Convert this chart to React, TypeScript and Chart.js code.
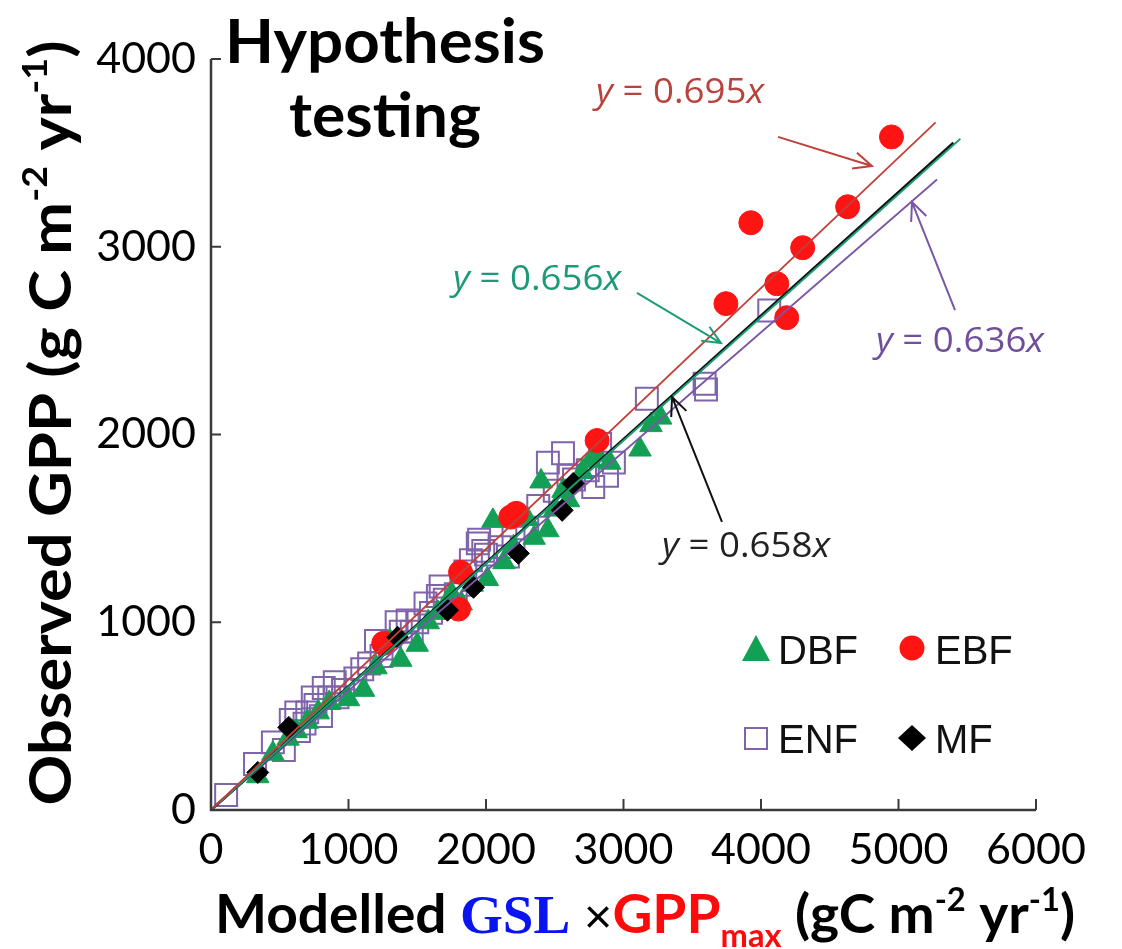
import React, { useEffect, useRef } from "react";
import { Chart, registerables } from "chart.js";

Chart.register(...registerables);

// ---------- data ----------
const xTickValues = [0, 1000, 2000, 3000, 4000, 5000, 6000];
const yTickValues = [0, 1000, 2000, 3000, 4000];

const enfX = [110, 320, 450, 530, 580, 620, 640, 680, 700, 740, 760, 800, 820, 860, 900, 920, 960, 1050, 1100, 1150, 1200, 1240, 1300, 1350, 1380, 1430, 1460, 1500, 1560, 1600, 1650, 1670, 1700, 1780, 1820, 1850, 1890, 1940, 1950, 1980, 2000, 2100, 2160, 2200, 2300, 2380, 2450, 2500, 2560, 2600, 2640, 2740, 2780, 2830, 2880, 2930, 3170, 3590, 3600, 4060];
const enfY = [80, 245, 360, 320, 480, 520, 420, 460, 520, 600, 560, 500, 650, 600, 680, 600, 640, 700, 750, 780, 900, 820, 860, 1000, 950, 1010, 950, 1000, 1100, 1050, 1140, 1190, 1120, 1150, 1200, 1270, 1330, 1420, 1440, 1380, 1360, 1400, 1350, 1450, 1500, 1620, 1850, 1700, 1900, 1780, 1760, 1810, 1720, 1950, 1780, 1850, 2190, 2270, 2240, 2660];

const dbfX = [340, 450, 560, 620, 700, 780, 860, 1000, 1110, 1200, 1300, 1380, 1500, 1580, 1650, 1750, 1820, 1900, 2010, 2050, 2130, 2200, 2300, 2350, 2400, 2450, 2500, 2560, 2600, 2700, 2760, 2800, 2900, 3120, 3200, 3270];
const dbfY = [180, 300, 380, 420, 470, 520, 570, 590, 640, 760, 900, 800, 880, 1000, 1050, 1150, 1100, 1200, 1230, 1540, 1320, 1400, 1550, 1450, 1750, 1490, 1600, 1700, 1650, 1800, 1860, 1900, 1850, 1920, 2050, 2090];

const ebfX = [1256, 1800, 1815, 2180, 2220, 2808, 3745, 3926, 4115, 4187, 4303, 4630, 4949];
const ebfY = [888, 1070, 1266, 1560, 1580, 1968, 2697, 3128, 2803, 2622, 2995, 3213, 3585];

const mfX = [340, 566, 1357, 1720, 1909, 2235, 2554, 2634];
const mfY = [200, 440, 920, 1064, 1186, 1367, 1596, 1739];

const fitNames = ["EBF fit", "DBF fit", "All fit", "ENF fit"];
const fitSlopes = [0.695, 0.656, 0.658, 0.636];
const fitEnds = [5270, 5450, 5400, 5280];
const fitLabels = ["y = 0.695x", "y = 0.656x", "y = 0.658x", "y = 0.636x"];

const legendNames = ["DBF", "EBF", "ENF", "MF"];

// ---------- styles ----------
const C_DBF = "#13a055";
const C_EBF = "#ff1414";
const C_ENF = "#7f63ab";
const C_MF = "#000000";
const fitColors = ["#c0403a", "#1d9d74", "#111111", "#7a56a6"];
const fitWidths = [1.8, 1.8, 2.8, 1.8];
const labelColors = ["#b8433d", "#1c9a78", "#222222", "#6f4f9c"];

// annotation placement in data units: [textX, textY, tailX, tailY, headX, headY]
const annoPlace = [
  [3411, 3830, 4124, 3585, 4807, 3430],
  [2371, 2834, 3098, 2754, 3709, 2487],
  [3891, 1411, 3716, 1534, 3353, 2200],
  [5447, 2503, 5411, 2663, 5098, 3238],
];

const toPts = (xs: number[], ys: number[]) => xs.map((x, i) => ({ x, y: ys[i] }));

type Seg = { t: string; font: string; color: string; dy?: number };

function segWidth(ctx: CanvasRenderingContext2D, segs: Seg[]) {
  return segs.map((s) => {
    ctx.font = s.font;
    return ctx.measureText(s.t).width;
  });
}

function drawSegs(
  ctx: CanvasRenderingContext2D,
  segs: Seg[],
  x: number,
  y: number,
  align: "left" | "center",
  fitWidth?: number,
  rotate?: number
) {
  ctx.save();
  const ws = segWidth(ctx, segs);
  const total = ws.reduce((a, b) => a + b, 0);
  ctx.translate(x, y);
  if (rotate) ctx.rotate(rotate);
  const sx = fitWidth ? fitWidth / total : 1;
  ctx.scale(sx, 1);
  let cx = align === "center" ? -total / 2 : 0;
  ctx.textAlign = "left";
  ctx.textBaseline = "alphabetic";
  segs.forEach((s, i) => {
    ctx.font = s.font;
    ctx.fillStyle = s.color;
    ctx.fillText(s.t, cx, s.dy || 0);
    cx += ws[i];
  });
  ctx.restore();
}

function arrow(ctx: CanvasRenderingContext2D, x1: number, y1: number, x2: number, y2: number, color: string) {
  ctx.save();
  ctx.strokeStyle = color;
  ctx.lineWidth = 2;
  ctx.beginPath();
  ctx.moveTo(x1, y1);
  ctx.lineTo(x2, y2);
  const a = Math.atan2(y2 - y1, x2 - x1);
  const L = 20;
  const sp = 0.42;
  ctx.moveTo(x2 - L * Math.cos(a - sp), y2 - L * Math.sin(a - sp));
  ctx.lineTo(x2, y2);
  ctx.lineTo(x2 - L * Math.cos(a + sp), y2 - L * Math.sin(a + sp));
  ctx.stroke();
  ctx.restore();
}

const decorPlugin = {
  id: "decor",
  afterDraw(chart: any) {
    const ctx: CanvasRenderingContext2D = chart.ctx;
    const xs = chart.scales.x;
    const ys = chart.scales.y;
    const { left, right, top, bottom } = chart.chartArea;

    // axes
    ctx.save();
    ctx.strokeStyle = "#3a3a3a";
    ctx.lineWidth = 2.5;
    ctx.beginPath();
    ctx.moveTo(left, top);
    ctx.lineTo(left, bottom);
    ctx.lineTo(right, bottom);
    ctx.stroke();
    // inward ticks
    ctx.lineWidth = 2;
    ctx.beginPath();
    xTickValues.forEach((v) => {
      const px = xs.getPixelForValue(v);
      if (v === 0) return;
      ctx.moveTo(px, bottom);
      ctx.lineTo(px, bottom - 11);
    });
    yTickValues.forEach((v) => {
      const py = ys.getPixelForValue(v);
      if (v === 0) return;
      ctx.moveTo(left, py);
      ctx.lineTo(left + 10, py);
    });
    ctx.stroke();
    ctx.restore();

    // regression labels + arrows
    fitLabels.forEach((lab, i) => {
      const p = annoPlace[i];
      const m = lab.match(/^y(.*)x$/);
      const mid = m ? m[1] : lab;
      const col = labelColors[i];
      drawSegs(
        ctx,
        [
          { t: "y", font: "italic 34px 'Open Sans'", color: col },
          { t: mid, font: "34px 'Open Sans'", color: col },
          { t: "x", font: "italic 34px 'Open Sans'", color: col },
        ],
        xs.getPixelForValue(p[0]),
        ys.getPixelForValue(p[1]) + 12,
        "center",
        168
      );
      arrow(
        ctx,
        xs.getPixelForValue(p[2]),
        ys.getPixelForValue(p[3]),
        xs.getPixelForValue(p[4]),
        ys.getPixelForValue(p[5]),
        fitColors[i]
      );
    });

    // legend
    const legX1 = 756, legX2 = 912, legY1 = 649, legY2 = 738;
    ctx.save();
    ctx.fillStyle = C_DBF;
    ctx.beginPath();
    ctx.moveTo(legX1, legY1 - 14);
    ctx.lineTo(legX1 + 14, legY1 + 12);
    ctx.lineTo(legX1 - 14, legY1 + 12);
    ctx.closePath();
    ctx.fill();
    ctx.fillStyle = C_EBF;
    ctx.beginPath();
    ctx.arc(legX2, legY1 - 1, 12.5, 0, Math.PI * 2);
    ctx.fill();
    ctx.strokeStyle = C_ENF;
    ctx.lineWidth = 2;
    ctx.strokeRect(legX1 - 11, legY2 - 10, 22, 21);
    ctx.fillStyle = C_MF;
    ctx.beginPath();
    ctx.moveTo(legX2, legY2 - 13);
    ctx.lineTo(legX2 + 14, legY2);
    ctx.lineTo(legX2, legY2 + 13);
    ctx.lineTo(legX2 - 14, legY2);
    ctx.closePath();
    ctx.fill();
    ctx.fillStyle = "#111";
    ctx.font = "40px 'Liberation Sans'";
    ctx.textAlign = "left";
    ctx.textBaseline = "alphabetic";
    ctx.fillText(legendNames[0], legX1 + 22, legY1 + 15);
    ctx.fillText(legendNames[1], legX2 + 23, legY1 + 15);
    ctx.fillText(legendNames[2], legX1 + 22, legY2 + 15);
    ctx.fillText(legendNames[3], legX2 + 23, legY2 + 15);
    ctx.restore();

    // title
    drawSegs(ctx, [{ t: "Hypothesis", font: "bold 61px Lato", color: "#000" }], 385, 63, "center", 320);
    drawSegs(ctx, [{ t: "testing", font: "bold 61px Lato", color: "#000" }], 385, 137, "center", 192);

    // y axis title
    const yb = "bold 57px Lato";
    const ysup = "bold 34px Lato";
    drawSegs(
      ctx,
      [
        { t: "Observed GPP (g C m", font: yb, color: "#000" },
        { t: "-2", font: ysup, color: "#000", dy: -24 },
        { t: " yr", font: yb, color: "#000" },
        { t: "-1", font: ysup, color: "#000", dy: -24 },
        { t: ")", font: yb, color: "#000" },
      ],
      71,
      423,
      "center",
      765,
      -Math.PI / 2
    );

    // x axis title
    const xb = "bold 54px Lato";
    const xsup = "bold 32px Lato";
    drawSegs(
      ctx,
      [
        { t: "Modelled ", font: xb, color: "#000" },
        { t: "GSL", font: "bold 54px 'Liberation Serif'", color: "#0a14f0" },
        { t: " \u00d7", font: "48px 'Liberation Sans'", color: "#000" },
        { t: "GPP", font: xb, color: "#ff0a0a" },
        { t: "max", font: "bold 32px Lato", color: "#ff0a0a", dy: 14 },
        { t: " (gC m", font: xb, color: "#000" },
        { t: "-2", font: xsup, color: "#000", dy: -22 },
        { t: " yr", font: xb, color: "#000" },
        { t: "-1", font: xsup, color: "#000", dy: -22 },
        { t: ")", font: xb, color: "#000" },
      ],
      215,
      933,
      "left",
      860
    );
  },
};

export default function App() {
  const ref = useRef<HTMLCanvasElement | null>(null);

  useEffect(() => {
    document.body.style.margin = "0";
    const canvas = ref.current;
    if (!canvas) return;

    const fitData = fitSlopes.map((s, i) => ({
      type: "line" as const,
      label: fitNames[i],
      data: [
        { x: 0, y: 0 },
        { x: fitEnds[i], y: s * fitEnds[i] },
      ],
      borderColor: fitColors[i],
      borderWidth: fitWidths[i],
      pointRadius: 0,
      fill: false,
      order: 0,
      clip: false as any,
    }));

    const chart = new Chart(canvas, {
      type: "scatter",
      data: {
        datasets: [
          {
            label: "ENF",
            data: toPts(enfX, enfY),
            pointStyle: "rect",
            pointRadius: 15.5,
            backgroundColor: "rgba(255,255,255,0)",
            borderColor: C_ENF,
            borderWidth: 2,
            order: 4,
            clip: false as any,
          },
          {
            label: "DBF",
            data: toPts(dbfX, dbfY),
            pointStyle: "triangle",
            pointRadius: 13,
            backgroundColor: C_DBF,
            borderColor: C_DBF,
            borderWidth: 1,
            order: 3,
            clip: false as any,
          },
          {
            label: "EBF",
            data: toPts(ebfX, ebfY),
            pointStyle: "circle",
            pointRadius: 12,
            backgroundColor: C_EBF,
            borderColor: C_EBF,
            borderWidth: 1,
            order: 2,
            clip: false as any,
          },
          {
            label: "MF",
            data: toPts(mfX, mfY),
            pointStyle: "rectRot",
            pointRadius: 11,
            backgroundColor: C_MF,
            borderColor: C_MF,
            borderWidth: 1,
            order: 1,
            clip: false as any,
          },
          ...fitData,
        ] as any,
      },
      options: {
        responsive: false,
        animation: false,
        layout: { padding: { left: 0, right: 86, top: 59, bottom: 0 } },
        plugins: { legend: { display: false }, tooltip: { enabled: false } },
        scales: {
          x: {
            type: "linear",
            min: 0,
            max: 6000,
            ticks: {
              stepSize: 1000,
              color: "#000",
              padding: 14,
              font: { family: "Lato", size: 43 },
              callback: (v: any) => String(v),
            },
            grid: { display: false, drawTicks: false },
            border: { display: false },
            afterFit: (s: any) => {
              s.height = 139;
            },
          },
          y: {
            type: "linear",
            min: 0,
            max: 4000,
            ticks: {
              stepSize: 1000,
              color: "#000",
              padding: 15,
              font: { family: "Lato", size: 43 },
              callback: (v: any) => String(v),
            },
            grid: { display: false, drawTicks: false },
            border: { display: false },
            afterFit: (s: any) => {
              s.width = 211;
            },
          },
        },
      },
      plugins: [decorPlugin],
    });

    return () => chart.destroy();
  }, []);

  return (
    <div style={{ width: 1122, height: 949, background: "#fff" }}>
      <canvas ref={ref} width={1122} height={949} />
    </div>
  );
}
